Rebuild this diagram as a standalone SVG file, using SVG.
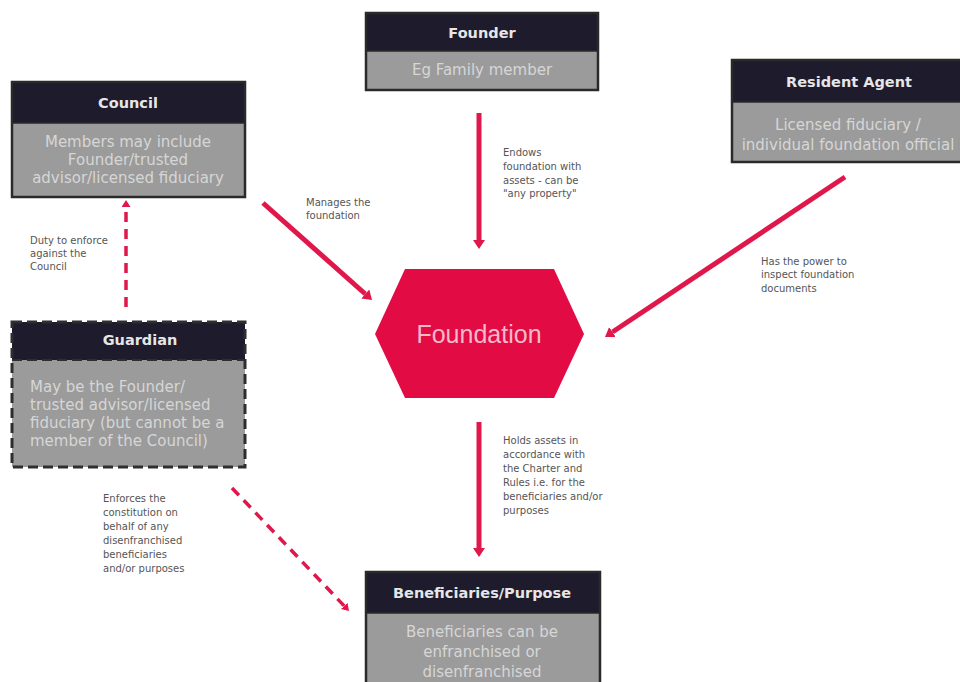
<svg xmlns="http://www.w3.org/2000/svg" width="960" height="682" viewBox="0 0 960 682">
<defs>
<style>
.hdr{fill:#1d1b2c}
.body{fill:#9b9b9b}
.frame{fill:none;stroke:#2a2a2a;stroke-width:2.5}
.dashframe{fill:none;stroke:#2e2e2e;stroke-width:3;stroke-dasharray:10 5}
.ht{font-family:"DejaVu Sans",sans-serif;font-weight:bold;font-size:14.5px;fill:#e6e6e6;text-anchor:middle}
.bt{font-family:"DejaVu Sans",sans-serif;font-size:15px;fill:#d6d6d6;text-anchor:middle}
.btl{font-family:"DejaVu Sans",sans-serif;font-size:15px;fill:#d6d6d6}
.lbl{font-family:"DejaVu Sans",sans-serif;font-size:10px;fill:#555555}
.solid{stroke:#e0174b;stroke-width:5;fill:none}
.dash{stroke:#e0174b;stroke-width:3.5;fill:none;stroke-dasharray:10 7}
</style>
<marker id="ah" viewBox="0 0 9 12" refX="0" refY="6" markerWidth="9" markerHeight="12" markerUnits="userSpaceOnUse" orient="auto">
<path d="M0,0 L9,6 L0,12 Z" fill="#e0174b"/>
</marker>
<marker id="ahd" viewBox="0 0 7 9" refX="0" refY="4.5" markerWidth="7" markerHeight="9" markerUnits="userSpaceOnUse" orient="auto">
<path d="M0,0 L7,4.5 L0,9 Z" fill="#e0174b"/>
</marker>
</defs>
<rect width="960" height="682" fill="#ffffff"/>

<g id="connectors">
<line class="solid" x1="479" y1="113" x2="479" y2="240" marker-end="url(#ah)"/>
<line class="solid" x1="479" y1="422" x2="479" y2="548" marker-end="url(#ah)"/>
<line class="solid" x1="263" y1="203" x2="365.3" y2="294" marker-end="url(#ah)"/>
<line class="solid" x1="845" y1="177" x2="612.5" y2="332" marker-end="url(#ah)"/>
<line class="dash" x1="126" y1="307" x2="126" y2="207" marker-end="url(#ahd)"/>
<line class="dash" x1="232" y1="488" x2="344.2" y2="605.9" marker-end="url(#ahd)"/>
<text class="lbl" x="306" y="206">Manages the</text>
<text class="lbl" x="306" y="219">foundation</text>
<text class="lbl" x="503" y="156">Endows</text>
<text class="lbl" x="503" y="170">foundation with</text>
<text class="lbl" x="503" y="184">assets - can be</text>
<text class="lbl" x="503" y="197">"any property"</text>
<text class="lbl" x="30" y="244">Duty to enforce</text>
<text class="lbl" x="30" y="257">against the</text>
<text class="lbl" x="30" y="270">Council</text>
<text class="lbl" x="761" y="265">Has the power to</text>
<text class="lbl" x="761" y="278">inspect foundation</text>
<text class="lbl" x="761" y="292">documents</text>
<text class="lbl" x="503" y="444">Holds assets in</text>
<text class="lbl" x="503" y="458">accordance with</text>
<text class="lbl" x="503" y="472">the Charter and</text>
<text class="lbl" x="503" y="486">Rules i.e. for the</text>
<text class="lbl" x="503" y="500">beneficiaries and/or</text>
<text class="lbl" x="503" y="514">purposes</text>
<text class="lbl" x="103" y="502">Enforces the</text>
<text class="lbl" x="103" y="516">constitution on</text>
<text class="lbl" x="103" y="530">behalf of any</text>
<text class="lbl" x="103" y="544">disenfranchised</text>
<text class="lbl" x="103" y="558">beneficiaries</text>
<text class="lbl" x="103" y="572">and/or purposes</text>
</g>

<g id="founder">
<rect class="hdr" x="366" y="13" width="232" height="38"/>
<rect class="body" x="366" y="51" width="232" height="39"/>
<rect class="frame" x="366" y="13" width="232" height="77"/>
<line x1="366" y1="51" x2="598" y2="51" stroke="#2a2a2a" stroke-width="1.5"/>
<text class="ht" x="482" y="38">Founder</text>
<text class="bt" x="482" y="75">Eg Family member</text>
</g>

<g id="council">
<rect class="hdr" x="12" y="82" width="233" height="41"/>
<rect class="body" x="12" y="123" width="233" height="74"/>
<rect class="frame" x="12" y="82" width="233" height="115"/>
<line x1="12" y1="123" x2="245" y2="123" stroke="#2a2a2a" stroke-width="1.5"/>
<text class="ht" x="128" y="108">Council</text>
<text class="bt" x="128" y="147">Members may include</text>
<text class="bt" x="128" y="165">Founder/trusted</text>
<text class="bt" x="128" y="183">advisor/licensed fiduciary</text>
</g>

<g id="resident-agent">
<rect class="hdr" x="732" y="60" width="232" height="42"/>
<rect class="body" x="732" y="102" width="232" height="60"/>
<rect class="frame" x="732" y="60" width="232" height="102"/>
<line x1="732" y1="102" x2="964" y2="102" stroke="#2a2a2a" stroke-width="1.5"/>
<text class="ht" x="849" y="87">Resident Agent</text>
<text class="bt" x="848" y="130">Licensed fiduciary /</text>
<text class="bt" x="848" y="150">individual foundation official</text>
</g>

<g id="guardian">
<rect class="hdr" x="12" y="322" width="233" height="38"/>
<rect class="body" x="12" y="360" width="233" height="107"/>
<rect class="dashframe" x="12" y="322" width="233" height="145"/>
<line x1="12" y1="360" x2="245" y2="360" stroke="#2e2e2e" stroke-width="2" stroke-dasharray="10 5"/>
<text class="ht" x="140" y="345">Guardian</text>
<text class="btl" x="30" y="392">May be the Founder/</text>
<text class="btl" x="30" y="410">trusted advisor/licensed</text>
<text class="btl" x="30" y="428">fiduciary (but cannot be a</text>
<text class="btl" x="30" y="446">member of the Council)</text>
</g>

<g id="foundation">
<polygon points="375,334 405,269 554,269 584,334 554,398 405,398" fill="#e20b44"/>
<text x="479" y="343" font-family="'Liberation Sans',Arial,sans-serif" font-size="25" fill="#f5b9c8" text-anchor="middle">Foundation</text>
</g>

<g id="beneficiaries">
<rect class="hdr" x="366" y="572" width="234" height="41"/>
<rect class="body" x="366" y="613" width="234" height="75"/>
<rect class="frame" x="366" y="572" width="234" height="116"/>
<line x1="366" y1="613" x2="600" y2="613" stroke="#2a2a2a" stroke-width="1.5"/>
<text class="ht" x="482" y="598">Beneficiaries/Purpose</text>
<text class="bt" x="482" y="637">Beneficiaries can be</text>
<text class="bt" x="482" y="657">enfranchised or</text>
<text class="bt" x="482" y="677">disenfranchised</text>
</g>
</svg>
